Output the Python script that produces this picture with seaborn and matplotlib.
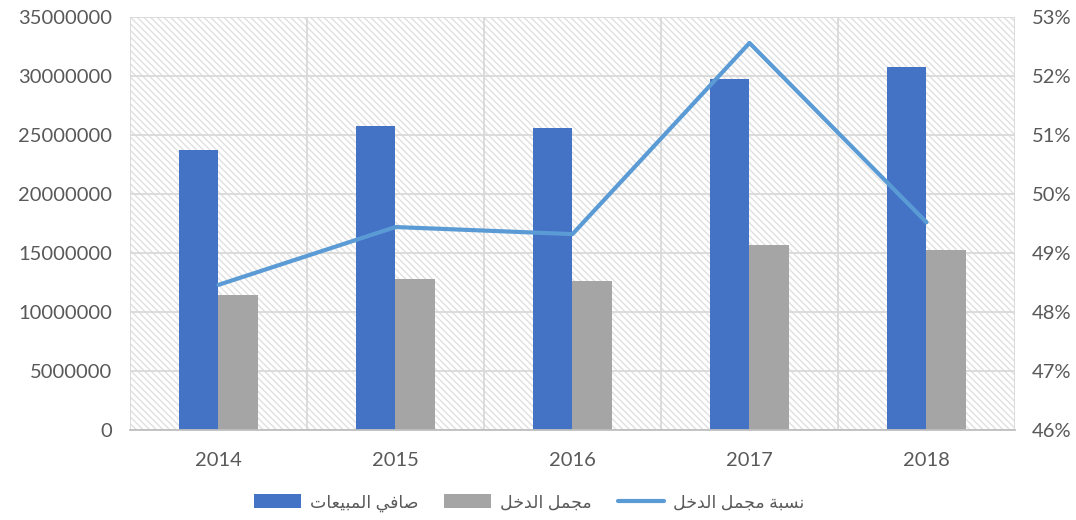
import numpy as np
import pandas as pd
import matplotlib
matplotlib.use('Agg')
import matplotlib.pyplot as plt
from matplotlib.ticker import MultipleLocator, FixedLocator
import seaborn as sns

years = ['2014', '2015', '2016', '2017', '2018']
net_sales = [23700000, 25780000, 25600000, 29780000, 30780000]
gross_income = [11450000, 12800000, 12640000, 15680000, 15270000]
gross_ratio = [48.46, 49.44, 49.32, 52.56, 49.52]
series_names = ['صافي المبيعات', 'مجمل الدخل', 'نسبة مجمل الدخل']

# matplotlib does no Arabic shaping, so pick presentation forms by hand
FORMS = {
    'ا': ('\uFE8D', '\uFE8E', None, None),
    'ب': ('\uFE8F', '\uFE90', '\uFE91', '\uFE92'),
    'ة': ('\uFE93', '\uFE94', None, None),
    'ت': ('\uFE95', '\uFE96', '\uFE97', '\uFE98'),
    'ج': ('\uFE9D', '\uFE9E', '\uFE9F', '\uFEA0'),
    'خ': ('\uFEA5', '\uFEA6', '\uFEA7', '\uFEA8'),
    'د': ('\uFEA9', '\uFEAA', None, None),
    'س': ('\uFEB1', '\uFEB2', '\uFEB3', '\uFEB4'),
    'ص': ('\uFEB9', '\uFEBA', '\uFEBB', '\uFEBC'),
    'ع': ('\uFEC9', '\uFECA', '\uFECB', '\uFECC'),
    'ف': ('\uFED1', '\uFED2', '\uFED3', '\uFED4'),
    'ل': ('\uFEDD', '\uFEDE', '\uFEDF', '\uFEE0'),
    'م': ('\uFEE1', '\uFEE2', '\uFEE3', '\uFEE4'),
    'ن': ('\uFEE5', '\uFEE6', '\uFEE7', '\uFEE8'),
    'ي': ('\uFEF1', '\uFEF2', '\uFEF3', '\uFEF4'),
}


def shape(text):
    out = []
    for i, ch in enumerate(text):
        if ch not in FORMS:
            out.append(ch)
            continue
        prev = text[i - 1] if i > 0 else ''
        nxt = text[i + 1] if i + 1 < len(text) else ''
        iso, fin, ini, med = FORMS[ch]
        join_prev = prev in FORMS and FORMS[prev][2] is not None
        join_next = nxt in FORMS and ini is not None
        if join_prev and join_next:
            out.append(med)
        elif join_prev:
            out.append(fin)
        elif join_next:
            out.append(ini)
        else:
            out.append(iso)
    return ''.join(reversed(out))


blue = '#4472C4'
gray = '#A5A5A5'
line_blue = '#5B9BD5'
grid_c = '#D9D9D9'
txt_c = '#595959'

sns.set_theme(style='white')
plt.rcParams['font.family'] = ['Lato', 'DejaVu Sans']
plt.rcParams['hatch.color'] = '#E0E0E0'
plt.rcParams['hatch.linewidth'] = 1.0

df = pd.DataFrame({
    'year': years * 2,
    'value': net_sales + gross_income,
    'series': [series_names[0]] * len(years) + [series_names[1]] * len(years),
})

fig = plt.figure(figsize=(10.76, 5.2), dpi=100)
ax = fig.add_axes([0.1208, 0.1731, 0.8225, 0.7942])
ax.patch.set_facecolor('white')
ax.patch.set_hatch('\\' * 5)
ax.patch.set_edgecolor('#E0E0E0')

sns.barplot(data=df, x='year', y='value', hue='series',
            palette=[blue, gray], width=0.45, gap=0, saturation=1,
            legend=False, ax=ax)
for cont in ax.containers:
    for b in cont:
        b.set_edgecolor('none')

ax2 = ax.twinx()
sns.lineplot(x=np.arange(len(years)), y=gross_ratio, ax=ax2,
             color=line_blue, linewidth=3)

ax.set_xlim(-0.5, len(years) - 0.5)
ax.set_ylim(0, 35000000)
ax.yaxis.set_major_locator(MultipleLocator(5000000))
ax.yaxis.set_major_formatter(matplotlib.ticker.FuncFormatter(lambda v, p: f'{int(v)}'))
ax.xaxis.set_minor_locator(FixedLocator(np.arange(len(years) + 1) - 0.5))
ax.set_axisbelow(True)
ax.grid(axis='y', which='major', color=grid_c, linewidth=1.3)
ax.grid(axis='x', which='minor', color=grid_c, linewidth=1.3)
ax.set_xlabel('')
ax.set_ylabel('')

ax2.set_ylim(46, 53)
ax2.yaxis.set_major_locator(MultipleLocator(1))
ax2.yaxis.set_major_formatter(matplotlib.ticker.FuncFormatter(lambda v, p: f'{int(round(v))}%'))
ax2.set_xlabel('')
ax2.set_ylabel('')

ax.tick_params(axis='both', which='both', length=0, labelsize=14.5, labelcolor=txt_c)
ax.tick_params(axis='y', pad=13)
ax.tick_params(axis='x', pad=16)
ax2.tick_params(axis='y', length=0, labelsize=14.5, labelcolor=txt_c, pad=12)

for a in (ax, ax2):
    for s in a.spines.values():
        s.set_visible(False)
ax.spines['bottom'].set_visible(True)
ax.spines['bottom'].set_color('#BFBFBF')
ax.spines['bottom'].set_linewidth(1.3)

handles = [ax.containers[0], ax.containers[1], ax2.lines[0]]
leg = fig.legend(handles, [shape(s) for s in series_names], loc='center',
                 bbox_to_anchor=(0.492, 0.033), ncol=3, frameon=False,
                 fontsize=12.5, handlelength=2.7, handleheight=0.85,
                 columnspacing=1.5, handletextpad=0.5)
for t in leg.get_texts():
    t.set_color(txt_c)

fig.savefig('out.png', dpi=100)
